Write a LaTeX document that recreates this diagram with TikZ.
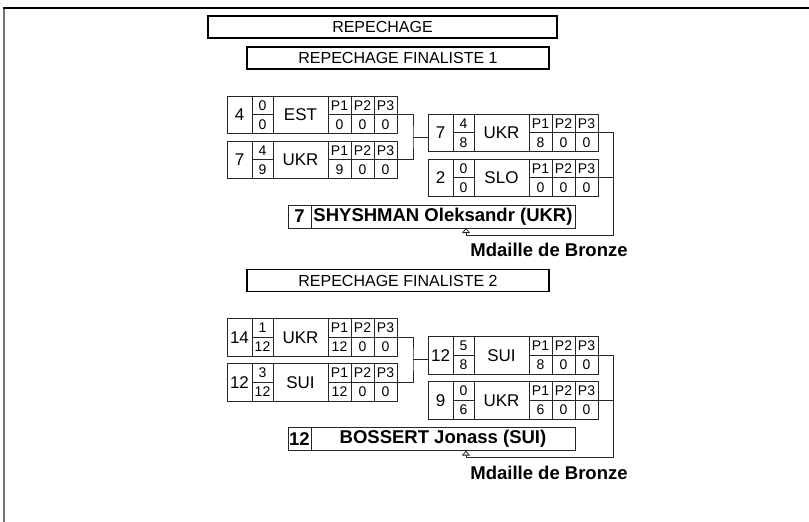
\documentclass[tikz,border=0pt]{standalone}
\usepackage{fontspec}
\setmainfont{Liberation Sans}
\usetikzlibrary{arrows.meta}

% one line of a bout: name, north west corner, seed, scores, team, points
\newcommand{\teamrow}[9]{%
  \begin{scope}[shift={(#2)}]
    \node[tab,minimum width=170pt,minimum height=37.5pt,anchor=north west] (#1) at (0,0) {};
    \draw[tab] (25,0) -- (25,37.5) (46,0) -- (46,37.5) (101,0) -- (101,37.5)
      (124,0) -- (124,37.5) (147,0) -- (147,37.5)
      (25,18.75) -- (46,18.75) (101,18.75) -- (170,18.75);
    \node[big] (#1s) at (12.5,18.75) {#3};
    \node[small] (#1a) at (35.5,9.6) {#4};
    \node[small] (#1b) at (35.5,28.3) {#5};
    \node[big] (#1t) at (73.5,18.75) {#6};
    \node[small] (#1h1) at (112.5,9.6) {P1};
    \node[small] (#1h2) at (135.5,9.6) {P2};
    \node[small] (#1h3) at (158.5,9.6) {P3};
    \node[small] (#1p1) at (112.5,28.3) {#7};
    \node[small] (#1p2) at (135.5,28.3) {#8};
    \node[small] (#1p3) at (158.5,28.3) {#9};
  \end{scope}}

% winner line: name, north west corner, seed, fighter
\newcommand{\winner}[4]{%
  \node[tab,minimum width=287pt,minimum height=23pt,anchor=north west] (#1) at (#2) {};
  \draw[tab] ([xshift=23pt]#1.north west) -- ([xshift=23pt]#1.south west);
  \node[bold] (#1s) at ([xshift=11.5pt]#1.west) {#3};
  \node[bold] (#1n) at ([xshift=155pt]#1.west) {#4};}

\begin{document}
\begin{tikzpicture}[x=1pt,y=-1pt,
    every node/.style={inner sep=0pt,outer sep=0pt},
    head/.style={draw,line width=1.6pt,minimum height=22pt,font=\fontsize{16}{16}\selectfont},
    tab/.style={draw=black!85,line width=0.8pt},
    big/.style={font=\fontsize{17}{17}\selectfont},
    small/.style={font=\fontsize{14}{14}\selectfont},
    bold/.style={font=\fontsize{18.5}{18.5}\selectfont\bfseries},
    link/.style={draw=black!85,line width=0.8pt},
    win/.style={-{Triangle[open,length=5pt,width=8pt]}}]
\useasboundingbox (0,0) rectangle (809,522);
\draw[black!55,line width=2pt] (4,8) -- (4,522);
\draw[line width=1.5pt] (3,8) -- (809,8);

\node[head,minimum width=349pt] (rep) at (382.5,27) {REPECHAGE};

% finaliste 1
\node[head,minimum width=302pt] (fin1) at (398,58) {REPECHAGE FINALISTE 1};
\teamrow{A1}{227,96}{4}{0}{0}{EST}{0}{0}{0}
\teamrow{B1}{227,141}{7}{4}{9}{UKR}{9}{0}{0}
\teamrow{C1}{428,114}{7}{4}{8}{UKR}{8}{0}{0}
\teamrow{D1}{428,159}{2}{0}{0}{SLO}{0}{0}{0}
\winner{W1}{288,205}{7}{SHYSHMAN Oleksandr (UKR)}
\node[bold] (M1) at (549,250) {Mdaille de Bronze};
\coordinate (j1) at (413,137.25);
\coordinate (k1) at (613,235);
\coordinate (t1) at ([xshift=178pt]W1.south west);
\draw[link] (A1.east) -| (j1) |- (B1.east);
\draw[link] (j1) -- (j1 -| C1.west);
\draw[link,win] (C1.east) -| (k1) -| (t1);
\draw[link] (D1.east) -- (D1.east -| k1);

% finaliste 2
\node[head,minimum width=302pt] (fin2) at (398,280.5) {REPECHAGE FINALISTE 2};
\teamrow{A2}{227,318.5}{14}{1}{12}{UKR}{12}{0}{0}
\teamrow{B2}{227,363.5}{12}{3}{12}{SUI}{12}{0}{0}
\teamrow{C2}{428,336.5}{12}{5}{8}{SUI}{8}{0}{0}
\teamrow{D2}{428,381.5}{9}{0}{6}{UKR}{6}{0}{0}
\winner{W2}{288,427.5}{12}{BOSSERT Jonass (SUI)}
\node[bold] (M2) at (549,472.5) {Mdaille de Bronze};
\coordinate (j2) at (413,359.75);
\coordinate (k2) at (613,457.5);
\coordinate (t2) at ([xshift=178pt]W2.south west);
\draw[link] (A2.east) -| (j2) |- (B2.east);
\draw[link] (j2) -- (j2 -| C2.west);
\draw[link,win] (C2.east) -| (k2) -| (t2);
\draw[link] (D2.east) -- (D2.east -| k2);
\end{tikzpicture}
\end{document}
